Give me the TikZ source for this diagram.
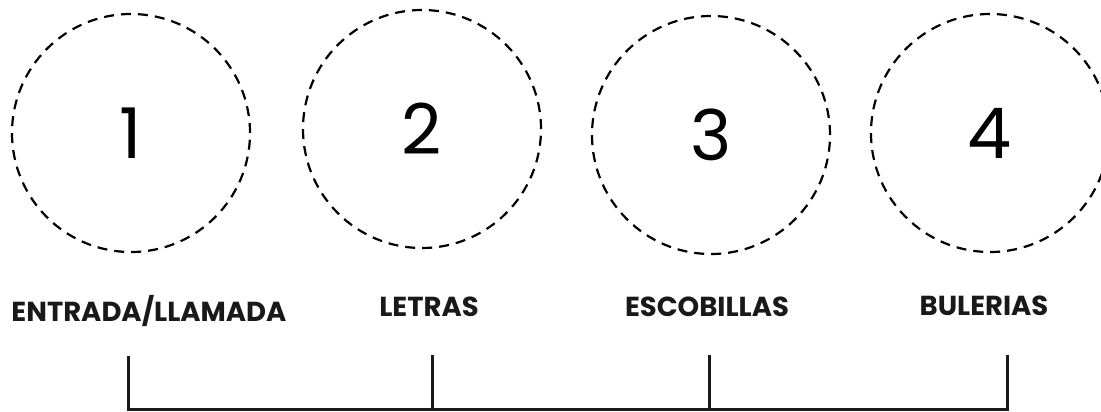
\documentclass[tikz,border=0pt]{standalone}
\usepackage{fontspec}
\setmainfont{Poppins}
\usetikzlibrary{positioning}

\begin{document}
\begin{tikzpicture}[x=1pt, y=-1pt,
    stage/.style={circle, draw, dash pattern=on 10pt off 7pt, line width=2.2pt,
                  minimum size=238pt, inner sep=0pt, font=\fontsize{70}{70}\selectfont},
    phase/.style={font=\fontsize{27.5}{27.5}\selectfont\bfseries, text=black!90},
    tickline/.style={line width=3pt, draw=black!90}]
    \useasboundingbox (0,0) rectangle (1101,412);

    % Dashed circles, one per part
    \node[stage] (c1) at (131,133) {1};
    \node[stage] (c2) at (422,129) {2};
    \node[stage] (c3) at (711,135) {3};
    \node[stage] (c4) at (990,133) {4};

    % Part names
    \node[phase] (l1) at (149,311) {ENTRADA/LLAMADA};
    \node[phase] (l2) at (429,307) {LETRAS};
    \node[phase] (l3) at (707,307) {ESCOBILLAS};
    \node[phase] (l4) at (984,306) {BULERIAS};

    % Timeline: ticks and base line
    \coordinate (t1) at (128,356);  \coordinate (b1) at (128,409);
    \coordinate (t2) at (432,355);  \coordinate (b2) at (432,409);
    \coordinate (t3) at (709,355);  \coordinate (b3) at (709,409);
    \coordinate (t4) at (1007,355); \coordinate (b4) at (1007,409);

    \draw[tickline] (t1) -- (b1) -- (b4) -- (t4);
    \draw[tickline] (t2) -- (b2);
    \draw[tickline] (t3) -- (b3);
\end{tikzpicture}
\end{document}
